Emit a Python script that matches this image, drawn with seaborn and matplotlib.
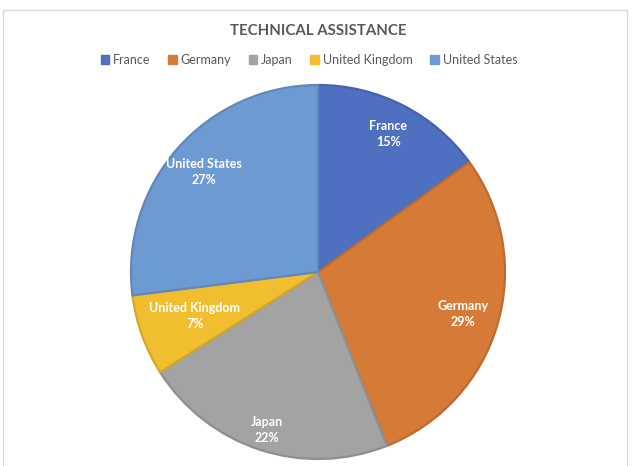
import matplotlib
matplotlib.use("Agg")
import matplotlib.pyplot as plt
import matplotlib.patches as mpatches
import matplotlib.colors as mcolors
import numpy as np
import seaborn as sns

countries = ["France", "Germany", "Japan", "United Kingdom", "United States"]
shares = [15, 29, 22, 7, 27]
colors = ["#4F6FC1", "#D57B37", "#A3A3A3", "#F0BE2E", "#6E9AD3"]

sns.set_theme(style="white")
plt.rcParams["font.family"] = ["Lato", "DejaVu Sans"]

W, H = 635, 466
fig = plt.figure(figsize=(W / 100, H / 100), dpi=100)

# light chart-area frame
fig.patches.append(mpatches.Rectangle((3 / W, -0.05), 624 / W, 1.05 - 10 / H,
                                      transform=fig.transFigure, fill=False,
                                      edgecolor="#D9D9D9", linewidth=1.0))

cx, cy, R = 318, 272, 187
ax = fig.add_axes([(cx - R) / W, (H - cy - R) / H, 2 * R / W, 2 * R / H])

edge = [tuple(c * 0.88 for c in mcolors.to_rgb(col)) for col in colors]
wedges, _ = ax.pie(shares, colors=colors, startangle=90, counterclock=False,
                   radius=1.0, wedgeprops=dict(linewidth=1.6))
for w, ec in zip(wedges, edge):
    w.set_edgecolor(ec)

# label placement as fraction of radius
label_r = [0.83, 0.81, 0.89, 0.70, 0.81]
for w, name, val, r in zip(wedges, countries, shares, label_r):
    ang = np.deg2rad((w.theta1 + w.theta2) / 2)
    ax.text(r * np.cos(ang), r * np.sin(ang), f"{name}\n{val}%",
            ha="center", va="center", color="white", fontsize=9,
            fontweight="bold", linespacing=1.4)

ax.set_xlim(-1, 1)
ax.set_ylim(-1, 1)
ax.set_aspect("equal")
ax.axis("off")

fig.text(318 / W, 1 - 31 / H, "TECHNICAL ASSISTANCE", ha="center", va="center",
         fontsize=10.8, fontweight="bold", color="#595959")

handles = [mpatches.Patch(color=c, label=n) for c, n in zip(colors, countries)]
fig.legend(handles=handles, loc="center", bbox_to_anchor=(309 / W, 1 - 60 / H),
           ncol=5, frameon=False, fontsize=9, handlelength=0.7, handleheight=0.7,
           handletextpad=0.3, columnspacing=1.4, labelcolor="#595959")

fig.savefig("out.png", dpi=100, facecolor="white")
